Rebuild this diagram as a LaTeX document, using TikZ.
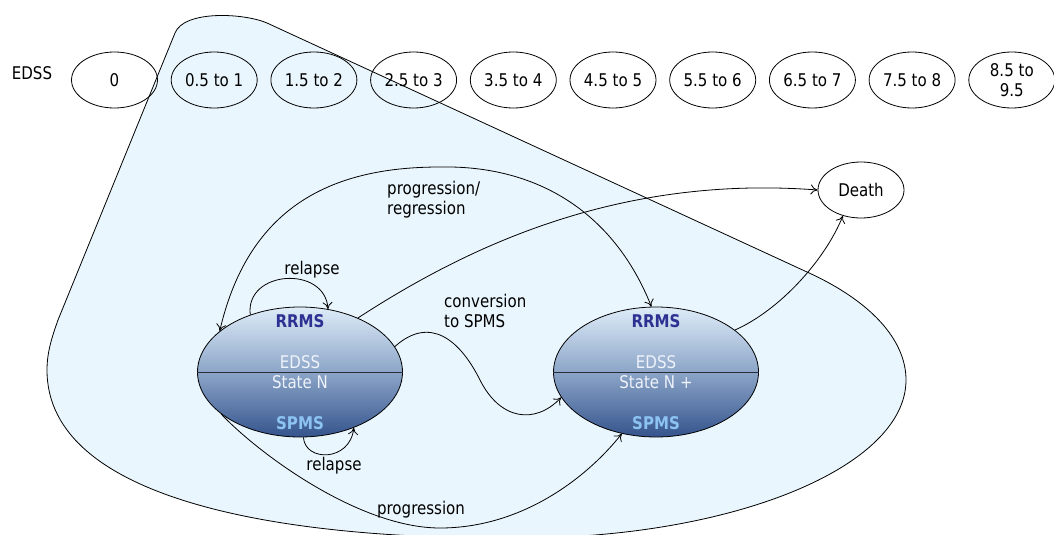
\documentclass[tikz,border=0pt]{standalone}
\usepackage{fontspec}
\setmainfont{DejaVu Sans}[FakeStretch=0.86]
\usetikzlibrary{shapes.geometric,arrows.meta}
\definecolor{regionfill}{RGB}{234,246,253}
\definecolor{stTop}{RGB}{222,236,248}
\definecolor{stMid}{RGB}{140,165,200}
\definecolor{stBot}{RGB}{52,84,140}
\definecolor{rrmsc}{RGB}{46,49,146}
\definecolor{spmsc}{RGB}{140,195,240}
\definecolor{edssc}{RGB}{238,242,250}
\definecolor{divc}{RGB}{40,45,55}
\tikzset{
  txt/.style={font=\fontsize{17.5}{20}\selectfont},
  lbl/.style={txt, inner sep=0pt, align=left},
  edssbox/.style={ellipse, draw, line width=0.8pt, minimum width=86pt, minimum height=56pt, inner sep=0pt, align=center, txt},
  statebox/.style={ellipse, draw, line width=0.8pt, minimum width=205pt, minimum height=130pt, inner sep=0pt,
    top color=stTop, bottom color=stBot, middle color=stMid},
  rrtext/.style={font=\fontsize{17.5}{20}\selectfont\bfseries, text=rrmsc, inner sep=0pt},
  sptext/.style={font=\fontsize{17.5}{20}\selectfont\bfseries, text=spmsc, inner sep=0pt},
  wtext/.style={txt, text=edssc, inner sep=0pt},
  conn/.style={line width=0.8pt, -{To[length=7pt,width=10pt]}},
  conn2/.style={line width=0.8pt, {To[length=7pt,width=10pt]}-{To[length=7pt,width=10pt]}}
}
\begin{document}
\begin{tikzpicture}[x=1pt,y=-1pt]
\useasboundingbox (0,0) rectangle (1054,535);
% background region
\path[fill=regionfill, draw=black, line width=0.8pt]
  (58,320) -- (175,33) .. controls (184,10) and (244,13) .. (267,23)
  -- (807,272) .. controls (871,301) and (906,340) .. (906,380)
  .. controls (906,467) and (733,538) .. (520,538)
  .. controls (280,540) and (47,500) .. (47,370)
  .. controls (47,352) and (52,337) .. (58,320) -- cycle;
% EDSS row
\node[txt, inner sep=0pt] (edsslbl) at (32,73) {EDSS};
\foreach \i/\t in {0/0, 1/0.5 to 1, 2/1.5 to 2, 3/2.5 to 3, 4/3.5 to 4, 5/4.5 to 5, 6/5.5 to 6, 7/6.5 to 7, 8/7.5 to 8, 9/{8.5 to\\9.5}}
  \node[edssbox] (e\i) at (114.5+99.7*\i,80) {\t};
% death
\node[edssbox] (D) at (861,190) {Death};
% states
\node[statebox] (L) at (300,372) {};
\draw[divc, line width=1pt] (L.west) -- (L.east);
\node[statebox] (R) at (656,372) {};
\draw[divc, line width=1pt] (R.west) -- (R.east);
\node[rrtext] (Lr) at ([yshift=51pt]L.center) {RRMS};
\node[wtext] (Le) at ([yshift=10pt]L.center) {EDSS};
\node[wtext] (Ls) at ([yshift=-10pt]L.center) {State N};
\node[sptext] (Lp) at ([yshift=-51pt]L.center) {SPMS};
\node[rrtext] (Rr) at ([yshift=51pt]R.center) {RRMS};
\node[wtext] (Re) at ([yshift=10pt]R.center) {EDSS};
\node[wtext] (Rs) at ([yshift=-10pt]R.center) {State N +};
\node[sptext] (Rp) at ([yshift=-51pt]R.center) {SPMS};
% connectors
\draw[conn2] (L.153) .. controls (250,200) and (340,167) .. (440,167)
  .. controls (540,165) and (615,215) .. (R.94);
\draw[conn] (L.131) .. controls (245,270) and (325,265) .. (L.66);
\draw[conn] (L.273) .. controls (305,462) and (350,462) .. (L.314);
\draw[conn] (L.15) .. controls (430,315) and (460,340) .. (480,380)
  .. controls (500,420) and (535,425) .. (R.195);
\draw[conn] (L.208) .. controls (260,455) and (360,528) .. (440,528)
  .. controls (520,528) and (585,480) .. (R.241);
\draw[conn] (L.43) .. controls (470,245) and (620,175) .. (D.west);
\draw[conn] (R.28) .. controls (780,310) and (825,260) .. (D.235);
% labels
\node[lbl, anchor=west] (pr) at (387,200) {progression/\\regression};
\node[lbl, anchor=west] (cv) at (444,311) {conversion\\to SPMS};
\node[lbl] (rl1) at (312,270) {relapse};
\node[lbl] (rl2) at (334,466) {relapse};
\node[lbl] (pg) at (421,510) {progression};
\end{tikzpicture}
\end{document}
